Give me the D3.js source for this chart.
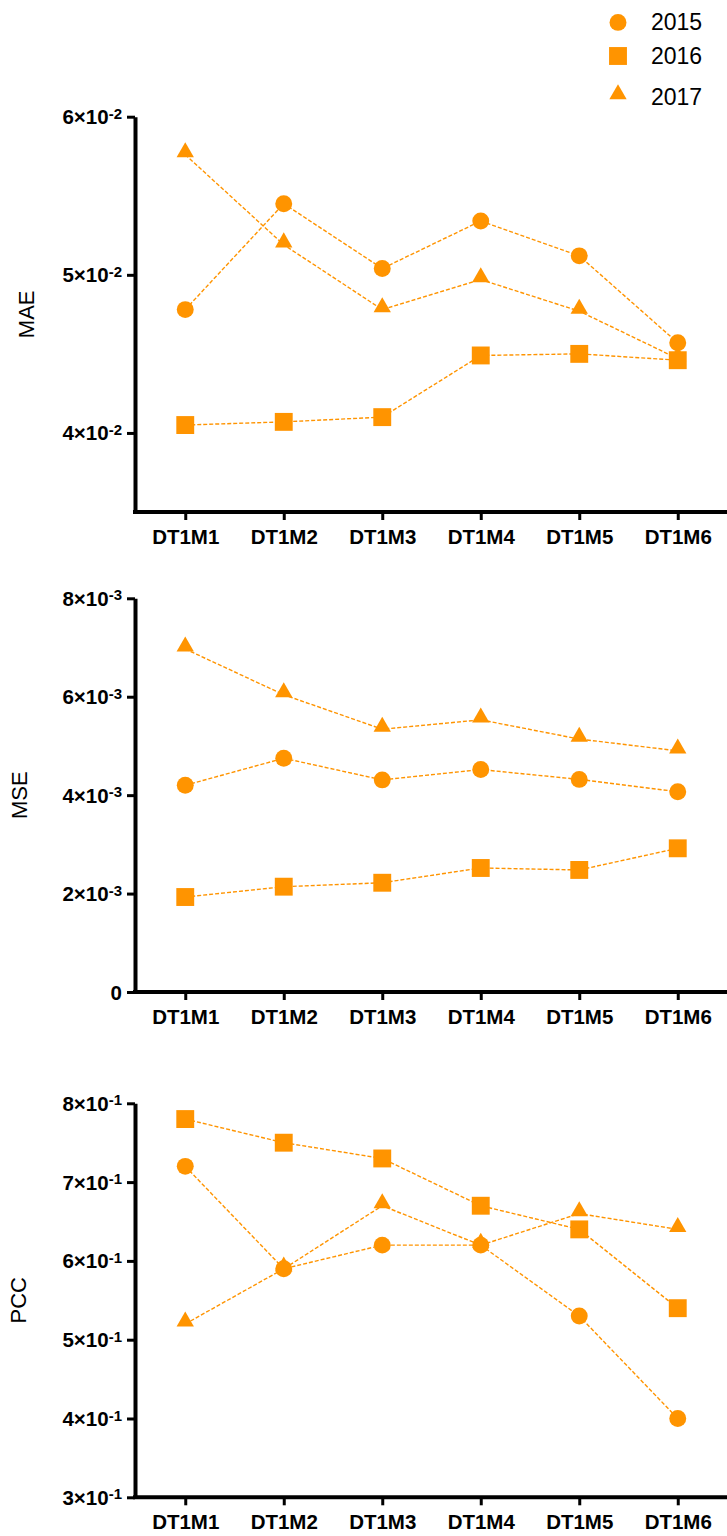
<!DOCTYPE html>
<html>
<head>
<meta charset="utf-8">
<script src="https://cdn.jsdelivr.net/npm/d3@7"></script>
<style>
body { margin: 0; background: #fff; }
text { font-family: "Liberation Sans", Arial, sans-serif; }
</style>
</head>
<body>
<script>
var categories = ["DT1M1", "DT1M2", "DT1M3", "DT1M4", "DT1M5", "DT1M6"];
var years = ["2015", "2016", "2017"];

var mae2015 = [0.0478, 0.0545, 0.0504, 0.0534, 0.0512, 0.0457];
var mae2016 = [0.0405, 0.0407, 0.0410, 0.0449, 0.0450, 0.0446];
var mae2017 = [0.0576, 0.0519, 0.0478, 0.0497, 0.0477, 0.0447];

var mse2015 = [0.00420, 0.00475, 0.00431, 0.00452, 0.00432, 0.00407];
var mse2016 = [0.00193, 0.00214, 0.00222, 0.00252, 0.00248, 0.00292];
var mse2017 = [0.00697, 0.00604, 0.00534, 0.00553, 0.00514, 0.00490];

var pcc2015 = [0.72, 0.59, 0.62, 0.62, 0.53, 0.40];
var pcc2016 = [0.78, 0.75, 0.73, 0.67, 0.64, 0.54];
var pcc2017 = [0.52, 0.59, 0.67, 0.62, 0.66, 0.64];

var maeTicks = [0.04, 0.05, 0.06];
var mseTicks = [0, 0.002, 0.004, 0.006, 0.008];
var pccTicks = [0.3, 0.4, 0.5, 0.6, 0.7, 0.8];

var orange = "#ff9400";
var width = 727, height = 1536;

var svg = d3.select("body").append("svg")
    .attr("width", width)
    .attr("height", height);

var x = d3.scalePoint()
    .domain(categories)
    .range([136, 727])
    .padding(0.5);

// marker shapes, drawn back to front: triangle, circle, square
var shapes = {
    "2015": d3.symbol().type(d3.symbolCircle).size(225),
    "2016": d3.symbol().type(d3.symbolSquare).size(320),
    "2017": d3.symbol().type(d3.symbolTriangle).size(130)
};
var shiftY = { "2015": 0, "2016": 0, "2017": -2.4 };

function tickParts(v) {
    if (v === 0) return ["0", null];
    var e = Math.floor(Math.log10(v) + 1e-9);
    var m = Math.round(v / Math.pow(10, e));
    return [m + "\u00d710", String(e)];
}

function panel(title, titleX, domain, top, bottom, ticks, series) {
    var y = d3.scaleLinear().domain(domain).range([bottom, top]);
    var g = svg.append("g");

    // y axis
    var ya = g.append("g")
        .attr("transform", "translate(135,0)")
        .call(d3.axisLeft(y).tickValues(ticks).tickSize(8).tickSizeOuter(0).tickFormat(""));
    ya.select(".domain").attr("stroke-width", 4);
    ya.selectAll(".tick line").attr("stroke-width", 3);

    // y tick labels with superscript exponents
    ticks.forEach(function(t) {
        var p = tickParts(t);
        var txt = g.append("text")
            .attr("x", 122)
            .attr("y", y(t) + 7.5)
            .attr("text-anchor", "end")
            .attr("font-size", 20.5)
            .attr("font-weight", "bold")
            .text(p[0]);
        if (p[1]) {
            txt.append("tspan")
                .attr("dy", -5.5)
                .attr("font-size", 15)
                .text(p[1]);
        }
    });

    // x axis
    var xa = g.append("g")
        .attr("transform", "translate(0," + bottom + ")")
        .call(d3.axisBottom(x).tickSize(8).tickSizeOuter(0).tickPadding(9));
    xa.select(".domain").attr("d", "M133,0H727").attr("stroke-width", 4);
    xa.selectAll(".tick line").attr("stroke-width", 3);
    xa.selectAll(".tick text")
        .attr("font-size", 20.5)
        .attr("font-weight", "bold")
        .attr("font-family", "Liberation Sans, Arial, sans-serif")
        .attr("fill", "#000");

    g.append("text")
        .attr("transform", "translate(" + titleX + "," + ((top + bottom) / 2) + ") rotate(-90)")
        .attr("text-anchor", "middle")
        .attr("font-size", 22)
        .text(title);

    var line = d3.line()
        .x(function(d, i) { return x(categories[i]); })
        .y(function(d) { return y(d); });

    var order = ["2017", "2015", "2016"];
    order.forEach(function(yr) {
        g.append("path")
            .attr("d", line(series[yr]))
            .attr("fill", "none")
            .attr("stroke", orange)
            .attr("stroke-width", 1.4)
            .attr("stroke-dasharray", "4,2");
    });
    order.forEach(function(yr) {
        g.selectAll(null)
            .data(series[yr])
            .enter().append("path")
            .attr("transform", function(d, i) {
                return "translate(" + x(categories[i]) + "," + (y(d) + shiftY[yr]) + ")";
            })
            .attr("d", shapes[yr]())
            .attr("fill", orange);
    });
}

panel("MAE", 34, [0.035, 0.06], 116.7, 512, maeTicks,
    { "2015": mae2015, "2016": mae2016, "2017": mae2017 });
panel("MSE", 26.5, [0, 0.008], 598.3, 992, mseTicks,
    { "2015": mse2015, "2016": mse2016, "2017": mse2017 });
panel("PCC", 26, [0.3, 0.8], 1103.3, 1497.3, pccTicks,
    { "2015": pcc2015, "2016": pcc2016, "2017": pcc2017 });

// legend
var legendY = [22.4, 56, 96.6];
years.forEach(function(yr, i) {
    svg.append("path")
        .attr("transform", "translate(618," + (legendY[i] + shiftY[yr]) + ")")
        .attr("d", shapes[yr]())
        .attr("fill", orange);
    svg.append("text")
        .attr("x", 651)
        .attr("y", legendY[i] + 8)
        .attr("font-size", 23)
        .text(yr);
});
</script>
</body>
</html>
